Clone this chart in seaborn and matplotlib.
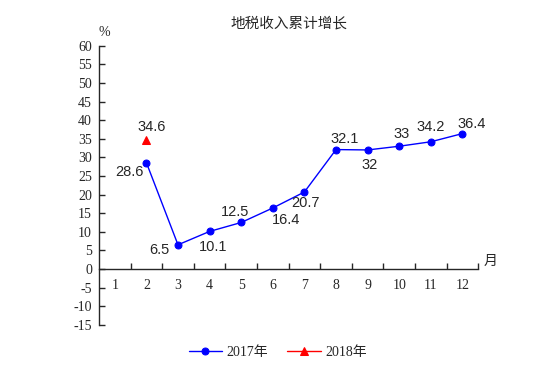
import numpy as np
import matplotlib
matplotlib.use('Agg')
import matplotlib.pyplot as plt
import seaborn as sns
from matplotlib.ticker import MultipleLocator, FixedLocator, FixedFormatter

sns.set_style('ticks')
plt.rcParams['font.family'] = ['Liberation Serif', 'Noto Sans CJK SC']
plt.rcParams['axes.unicode_minus'] = False

# data
months = list(range(1, 13))
month_labels = [str(m) for m in months]
months_2017 = [2, 3, 4, 5, 6, 7, 8, 9, 10, 11, 12]
growth_2017 = [28.6, 6.5, 10.1, 12.5, 16.4, 20.7, 32.1, 32, 33, 34.2, 36.4]
months_2018 = [2]
growth_2018 = [34.6]

# label offsets in pixels (dx, dy up)
offs_2017 = [(-17, -9), (-19, -5), (4, -16), (-6, 10), (13, -12), (1, -11),
             (9, 11), (2, -15), (2, 12), (0, 15), (9, 10)]
offs_2018 = [(5, 13)]

fig = plt.figure(figsize=(5.52, 3.9), dpi=100)
ax = fig.add_axes([0.1793, 0.1672, 0.6871, 0.7154])

sns.lineplot(x=months_2017, y=growth_2017, ax=ax, color='blue', marker='o',
             markersize=5, markeredgecolor='blue', linewidth=1, label='2017年')
sns.lineplot(x=months_2018, y=growth_2018, ax=ax, color='red', marker='^',
             markersize=6, markeredgecolor='red', linewidth=1, label='2018年')

for x, y, (dx, dy) in zip(months_2017, growth_2017, offs_2017):
    ax.annotate(f'{y:g}', (x, y), xytext=(dx, dy), textcoords='offset pixels',
                ha='center', va='center', fontsize=10.5, family='Liberation Sans')
for x, y, (dx, dy) in zip(months_2018, growth_2018, offs_2018):
    ax.annotate(f'{y:g}', (x, y), xytext=(dx, dy), textcoords='offset pixels',
                ha='center', va='center', fontsize=10.5, family='Liberation Sans')

ax.set_xlim(0.5, 12.5)
ax.set_ylim(-15, 60)
ax.set_xlabel('')
ax.set_ylabel('')

for s in ['top', 'right']:
    ax.spines[s].set_visible(False)
ax.spines['bottom'].set_position(('data', 0))
ax.spines['left'].set_linewidth(1.0)
ax.spines['bottom'].set_linewidth(1.0)

ax.yaxis.set_major_locator(MultipleLocator(5))
ax.tick_params(axis='y', direction='in', length=4, width=1, labelsize=10, pad=5)

ax.xaxis.set_major_locator(FixedLocator(np.arange(1.5, 13, 1)))
ax.xaxis.set_minor_locator(FixedLocator(months))
ax.xaxis.set_major_formatter(FixedFormatter([''] * 12))
ax.xaxis.set_minor_formatter(FixedFormatter(month_labels))
ax.tick_params(axis='x', which='major', direction='in', length=4, width=1)
ax.tick_params(axis='x', which='minor', length=0, labelsize=10, pad=7)

ax.set_title('地税收入累计增长', fontsize=10.5, pad=13,
             family=['Noto Sans CJK SC'])
fig.text(104.3 / 552, 1 - 32.7 / 390, '%', ha='center', va='center', fontsize=10)
fig.text(491 / 552, 1 - 260.7 / 390, '月', ha='center', va='center', fontsize=10,
         family=['Noto Sans CJK SC'])

ax.legend(loc='center', bbox_to_anchor=(0.503, 0.097), bbox_transform=fig.transFigure,
          ncol=2, frameon=False, fontsize=10, handlelength=2.4, handletextpad=0.3,
          columnspacing=1.4)

fig.savefig('out.png', dpi=100)
